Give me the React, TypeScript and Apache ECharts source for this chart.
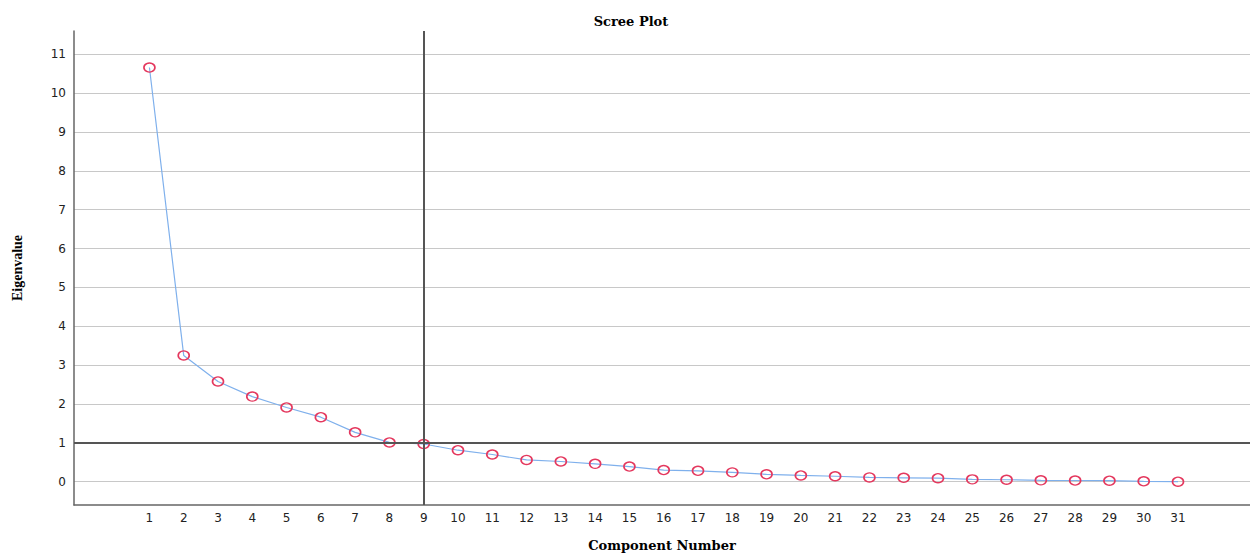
import React, { useEffect, useRef } from "react";
import * as echarts from "echarts";

const components = [1, 2, 3, 4, 5, 6, 7, 8, 9, 10, 11, 12, 13, 14, 15, 16, 17, 18, 19, 20, 21, 22, 23, 24, 25, 26, 27, 28, 29, 30, 31];
const eigenvalues = [10.66, 3.25, 2.58, 2.19, 1.91, 1.66, 1.27, 1.01, 0.97, 0.81, 0.70, 0.56, 0.52, 0.46, 0.39, 0.30, 0.28, 0.24, 0.19, 0.16, 0.14, 0.11, 0.10, 0.09, 0.06, 0.05, 0.035, 0.03, 0.025, 0.01, 0.0];
const yTicks = [0, 1, 2, 3, 4, 5, 6, 7, 8, 9, 10, 11];
const refEigen = 1;
const refComponent = 9;

export default function App() {
  const ref = useRef<HTMLDivElement>(null);
  useEffect(() => {
    if (!ref.current) return;
    const chart = echarts.init(ref.current, null, { renderer: "svg" });
    const labelFont = { fontFamily: "DejaVu Sans", fontSize: 12, color: "#222" };
    const wideFont = { fontFamily: "DejaVu Serif", fontWeight: "bold", fontSize: 13, color: "#000" };
    const narrowFont = { fontFamily: "Liberation Serif", fontWeight: "bold", fontSize: 14, color: "#000" };
    chart.setOption({
      animation: false,
      backgroundColor: "#fff",
      title: {
        text: "Scree Plot",
        left: 626,
        top: 10,
        textAlign: "center",
        textStyle: wideFont,
      },
      grid: { left: 74, top: 31, right: 0, bottom: 48, containLabel: false, outerBoundsMode: "none" },
      xAxis: {
        type: "value",
        min: -1.2,
        max: 33.1,
        name: "Component Number",
        nameLocation: "middle",
        nameGap: 34,
        nameTextStyle: wideFont,
        axisLine: { show: true, onZero: false, lineStyle: { color: "#666", width: 1.5 } },
        axisTick: { show: false, customValues: components },
        axisLabel: { ...labelFont, margin: 7, customValues: components },
        splitLine: { show: false },
      },
      yAxis: {
        type: "value",
        min: -0.6,
        max: 11.6,
        name: "Eigenvalue",
        nameLocation: "middle",
        nameGap: 50,
        nameRotate: 90,
        nameTextStyle: narrowFont,
        axisLine: { show: true, onZero: false, lineStyle: { color: "#666", width: 1.5 } },
        axisTick: { show: false, customValues: yTicks },
        axisLabel: { ...labelFont, margin: 8, customValues: yTicks },
        splitLine: { show: true, lineStyle: { color: "#c8c8c8", width: 1 } },
      },
      series: [
        {
          type: "line",
          data: components.map((c, i) => [c, eigenvalues[i]]),
          symbol: "circle",
          symbolSize: [11, 9],
          showSymbol: true,
          lineStyle: { color: "#7fb0ec", width: 1.2 },
          itemStyle: { color: "rgba(255,255,255,0)", borderColor: "#e4385e", borderWidth: 1.5 },
          z: 3,
          markLine: {
            silent: true,
            symbol: "none",
            label: { show: false },
            lineStyle: { color: "#555", width: 2, type: "solid" },
            data: [{ yAxis: refEigen }, { xAxis: refComponent }],
          },
        },
      ],
    });
    return () => chart.dispose();
  }, []);
  return (
    <div
      ref={ref}
      style={{ position: "absolute", left: 0, top: 0, width: 1250, height: 553 }}
    />
  );
}
